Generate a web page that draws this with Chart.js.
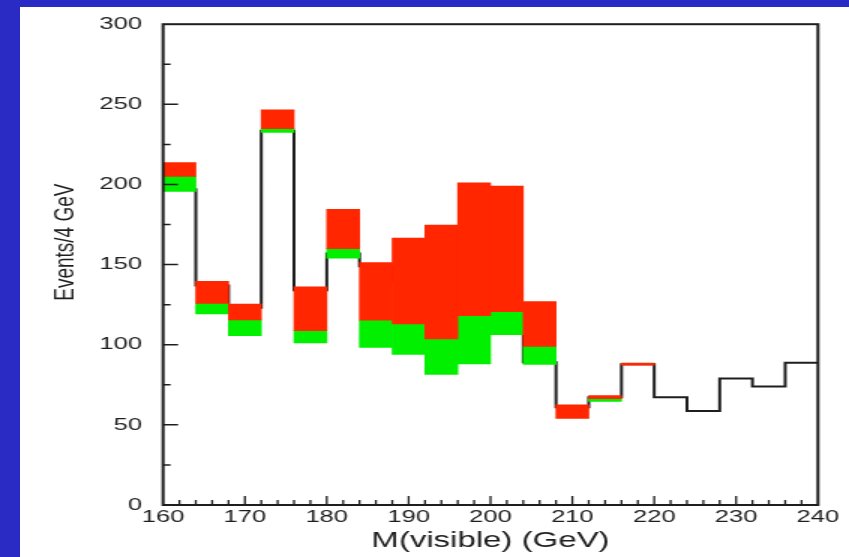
<!DOCTYPE html>
<html>
<head>
<meta charset="utf-8">
<script src="https://cdn.jsdelivr.net/npm/chart.js@4"></script>
<style>
  html, body { margin: 0; padding: 0; }
  body { width: 849px; height: 557px; background: #2a2ac4; position: relative; overflow: hidden; }
  #paper { position: absolute; left: 20px; top: 7px; right: 0; bottom: 0; background: #fff; }
  /* the plot is laid out narrow and stretched sideways, like the wide slide it sits on */
  #wrap { position: absolute; left: 0; top: 0; width: 566px; height: 557px; transform: scaleX(1.5); transform-origin: 0 0; }
</style>
</head>
<body>
<div id="paper"></div>
<div id="wrap"><canvas id="mass-chart"></canvas></div>
<script>
// lower edge of each 4 GeV bin in visible mass
const binLow = [160, 164, 168, 172, 176, 180, 184, 188, 192, 196,
                200, 204, 208, 212, 216, 220, 224, 228, 232, 236];
const binWidth = 4;

// black histogram, events per bin
const histogram = [197, 137, 123, 233.5, 134, 157, 149, 140, 140, 150,
                   118, 89, 61, 67.3, 87.8, 67.3, 58.6, 78.9, 73.9, 88.8];

// red band [low, high] per bin
const redBand = [[205, 213.7], [125.8, 139.5], [115.5, 125.4], [234.8, 246.6], [108.8, 136.2],
                 [160, 184.5], [115.3, 151.3], [113, 166.5], [103.7, 174.6], [118.2, 201],
                 [120.6, 199], [99, 127], [54, 62.5], [66.4, 68.3], [87.2, 88.5],
                 null, null, null, null, null];

// green band [low, high] per bin
const greenBand = [[195.6, 205], [119.2, 125.8], [105.7, 115.5], [232.5, 234.8], [101.2, 108.8],
                   [154, 160], [98.4, 115.3], [93.9, 113], [81.5, 103.7], [88, 118.2],
                   [106.3, 120.6], [87.7, 99], null, [64.6, 66.4], null,
                   null, null, null, null, null];

const xRange = [160, 240];
const yRange = [0, 300];
const yTitle = 'Events/4 GeV';

function bandPoints(band) {
    return binLow
        .map((lo, i) => band[i] ? { x: lo + binWidth / 2, y: band[i] } : null)
        .filter(Boolean);
}

const histPoints = binLow.map((lo, i) => ({ x: lo, y: histogram[i] }));
histPoints.push({ x: binLow[binLow.length - 1] + binWidth, y: histogram[histogram.length - 1] });

const ink = '#1e1e1e';
const fontFamily = '"Liberation Sans", Arial, Helvetica, sans-serif';

// box around the plot with inward tick marks, plus the y title sitting a bit high
const frame = {
    id: 'frame',
    afterDatasetsDraw(chart) {
        const { ctx, chartArea: a, scales } = chart;
        ctx.save();
        ctx.strokeStyle = ink;
        ctx.lineWidth = 2;
        ctx.strokeRect(a.left, a.top, a.right - a.left, a.bottom - a.top);

        ctx.lineWidth = 1.3;
        ctx.beginPath();
        for (let v = xRange[0] + 2; v < xRange[1]; v += 2) {
            const px = scales.x.getPixelForValue(v);
            const len = v % 10 === 0 ? 9 : 5;
            ctx.moveTo(px, a.bottom);
            ctx.lineTo(px, a.bottom - len);
        }
        ctx.stroke();

        ctx.lineWidth = 1.5;
        ctx.beginPath();
        for (let v = yRange[0] + 25; v < yRange[1]; v += 25) {
            const py = scales.y.getPixelForValue(v);
            const len = v % 50 === 0 ? 10 : 5;
            ctx.moveTo(a.left, py);
            ctx.lineTo(a.left + len, py);
        }
        ctx.stroke();

        ctx.translate(44, scales.y.getPixelForValue(164));
        ctx.rotate(-Math.PI / 2);
        ctx.fillStyle = ink;
        ctx.font = '19px ' + fontFamily;
        ctx.textAlign = 'center';
        ctx.textBaseline = 'middle';
        ctx.fillText(yTitle, 0, 0);
        ctx.restore();
    }
};

const canvas = document.getElementById('mass-chart');
new Chart(canvas, {
    type: 'bar',
    data: {
        datasets: [{
            label: 'red',
            data: bandPoints(redBand),
            backgroundColor: 'rgb(255, 38, 0)',
            borderWidth: 0,
            grouped: false,
            barPercentage: 1,
            categoryPercentage: 1,
            order: 1
        }, {
            label: 'green',
            data: bandPoints(greenBand),
            backgroundColor: 'rgb(0, 240, 0)',
            borderWidth: 0,
            grouped: false,
            barPercentage: 1,
            categoryPercentage: 1,
            order: 2
        }, {
            type: 'line',
            label: 'histogram',
            data: histPoints,
            stepped: 'before',
            borderColor: ink,
            borderWidth: 2,
            pointRadius: 0,
            fill: false,
            tension: 0,
            order: 3
        }]
    },
    options: {
        responsive: true,
        maintainAspectRatio: false,
        animation: false,
        layout: {
            padding: { top: 22.7, right: 20.7, left: 0, bottom: 0 }
        },
        scales: {
            x: {
                type: 'linear',
                min: xRange[0],
                max: xRange[1],
                offset: false,
                grid: { display: false, drawTicks: false },
                border: { display: false },
                ticks: {
                    stepSize: 10,
                    autoSkip: false,
                    maxRotation: 0,
                    padding: 2,
                    color: ink,
                    font: { family: fontFamily, size: 17 }
                },
                title: {
                    display: true,
                    text: 'M(visible) (GeV)',
                    color: ink,
                    padding: { top: 0, bottom: 3 },
                    font: { family: fontFamily, size: 22 }
                },
                afterFit(scale) { scale.height = 52; }
            },
            y: {
                min: yRange[0],
                max: yRange[1],
                grid: { display: false, drawTicks: false },
                border: { display: false },
                ticks: {
                    stepSize: 50,
                    padding: 14,
                    color: ink,
                    font: { family: fontFamily, size: 17 }
                },
                afterFit(scale) { scale.width = 108.7; }
            }
        },
        plugins: {
            legend: { display: false },
            tooltip: { enabled: false }
        }
    },
    plugins: [frame]
});
</script>
</body>
</html>
